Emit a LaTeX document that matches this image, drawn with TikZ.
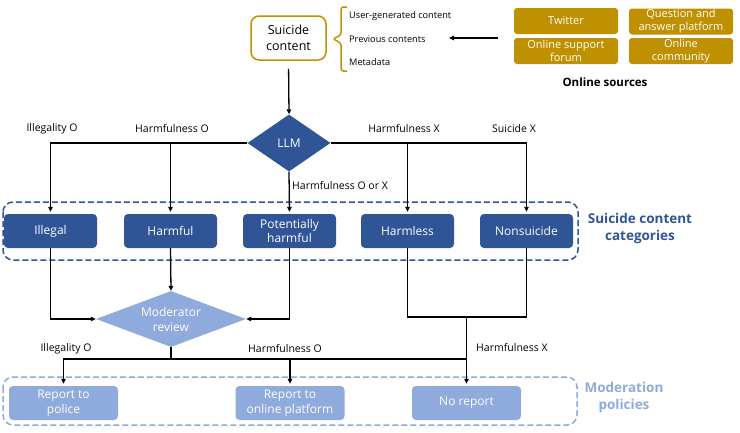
\documentclass[tikz,border=0pt]{standalone}
\usepackage{fontspec}
\setmainfont{Open Sans}
\usetikzlibrary{shapes.geometric,arrows.meta}
\definecolor{gold}{HTML}{BF9000}
\definecolor{dblue}{HTML}{2F5597}
\definecolor{lblue}{HTML}{8FAADC}
\tikzset{
  arr/.style={draw=black,line width=1.3pt,-{Triangle[length=5pt,width=4.5pt]}},
  ln/.style={draw=black,line width=1.3pt},
  goldbox/.style={rectangle,rounded corners=3pt,fill=gold,text=white,minimum width=104pt,minimum height=26pt,inner sep=0pt,align=center,font=\fontsize{11}{13}\selectfont},
  catbox/.style={rectangle,rounded corners=4pt,fill=dblue,text=white,minimum width=93pt,minimum height=34pt,inner sep=0pt,align=center,font=\fontsize{12}{14.5}\selectfont},
  modbox/.style={rectangle,rounded corners=4pt,fill=lblue,text=white,minimum width=109pt,minimum height=34pt,inner sep=0pt,align=center,font=\fontsize{12}{14.5}\selectfont},
  lbl/.style={font=\fontsize{10.5}{12}\selectfont,inner sep=0pt},
  small/.style={font=\fontsize{9.2}{10}\selectfont,inner sep=0pt,anchor=west},
  grp/.style={rounded corners=10pt,line width=1.5pt,dash pattern=on 6pt off 3pt},
}
\begin{document}
\begin{tikzpicture}[x=1pt,y=-1pt]
\useasboundingbox (0,0) rectangle (740,432);
% Suicide content
\node[draw=gold,line width=1.5pt,rounded corners=8pt,fill=white,minimum width=75pt,minimum height=44pt,inner sep=0pt,align=center,font=\fontsize{12.5}{16}\selectfont] (sc) at (288.5,38) {Suicide\\content};
% brace
\draw[gold,line width=1.5pt,rounded corners=2.5pt] (347,7) -- (341,7) -- (341,35) -- (333,39) -- (341,43) -- (341,71) -- (347,71);
\node[small] (ugc) at (349,16) {User-generated content};
\node[small] (prev) at (349,39) {Previous contents};
\node[small] (meta) at (349,62) {Metadata};
\coordinate (srcin) at (498,38);
\coordinate (srcout) at (449,38);
\draw[arr] (srcin) -- (srcout);
% online sources
\node[goldbox] (tw) at (566,21) {Twitter};
\node[goldbox] (qa) at (681,21.5) {Question and\\answer platform};
\node[goldbox] (osf) at (566,51) {Online support\\forum};
\node[goldbox] (oc) at (681,51) {Online\\community};
\node[font=\fontsize{11.5}{13}\selectfont\bfseries,inner sep=0pt] (os) at (605,82) {Online sources};
% LLM
\node[diamond,fill=dblue,text=white,minimum width=83pt,minimum height=57pt,inner sep=0pt,aspect=1.45,font=\fontsize{12}{14}\selectfont] (llm) at (289,143) {LLM};
% categories
\node[catbox] (ill) at (50.5,231) {Illegal};
\node[catbox] (harm) at (170.5,231) {Harmful};
\node[catbox] (pot) at (289.5,231) {Potentially\\harmful};
\node[catbox] (hless) at (407.5,231) {Harmless};
\node[catbox] (nons) at (526.5,231) {Nonsuicide};
\draw[dblue,grp] (3,202) rectangle (578,260);
\node[text=dblue,font=\fontsize{13.5}{17}\selectfont\bfseries,align=center,inner sep=0pt] (catlbl) at (640,228) {Suicide content\\categories};
% moderator
\node[diamond,fill=lblue,text=white,minimum width=150pt,minimum height=56pt,inner sep=0pt,aspect=2.6,align=center,font=\fontsize{12}{15}\selectfont] (mod) at (171,319) {Moderator\\review};
% policies
\node[modbox] (pol) at (63.5,403) {Report to\\police};
\node[modbox] (plat) at (290,403) {Report to\\online platform};
\node[modbox] (nr) at (466.5,403) {No report};
\draw[lblue,grp] (3,377) rectangle (577,425);
\node[text=lblue,font=\fontsize{13.5}{17}\selectfont\bfseries,align=center,inner sep=0pt] (modlbl) at (624,397) {Moderation\\policies};
% connectors
\draw[arr,shorten <=8pt] (sc.south) -- (llm.north);
\draw[arr,shorten >=2pt] (llm.west) -| (ill.north);
\draw[arr,shorten >=2pt] (llm.west) -| (harm.north);
\draw[arr,shorten >=2pt] (llm.south) -- (pot.north);
\draw[arr,shorten >=2pt] (llm.east) -| (hless.north);
\draw[arr,shorten >=2pt] (llm.east) -| (nons.north);
\draw[arr] (ill.south) |- (mod.west);
\draw[arr] (harm.south) -- (mod.north);
\draw[arr] (pot.south) |- (mod.east);
\coordinate (j1) at (171,359);
\coordinate (j2) at (466.5,317);
\draw[ln] (mod.south) -- (j1);
\draw[arr,shorten >=2pt] (j1) -| (pol.north);
\draw[arr,shorten >=2pt] (j1) -| (plat.north);
\draw[ln] (j1) -- (j1 -| nr.north);
\draw[ln] (hless.south) |- (j2);
\draw[ln] (nons.south) |- (j2);
\draw[arr,shorten >=2pt] (j2) -- (nr.north);
% labels
\node[lbl] (l1) at (52,129) {Illegality O};
\node[lbl] (l2) at (172,129) {Harmfulness O};
\node[lbl,anchor=west] (l3) at (292,186) {Harmfulness O or X};
\node[lbl] (l4) at (404,129) {Harmfulness X};
\node[lbl] (l5) at (514,129) {Suicide X};
\node[lbl] (l6) at (66,349) {Illegality O};
\node[lbl] (l7) at (285,349) {Harmfulness O};
\node[lbl,anchor=west] (l8) at (476,348) {Harmfulness X};
\end{tikzpicture}
\end{document}
